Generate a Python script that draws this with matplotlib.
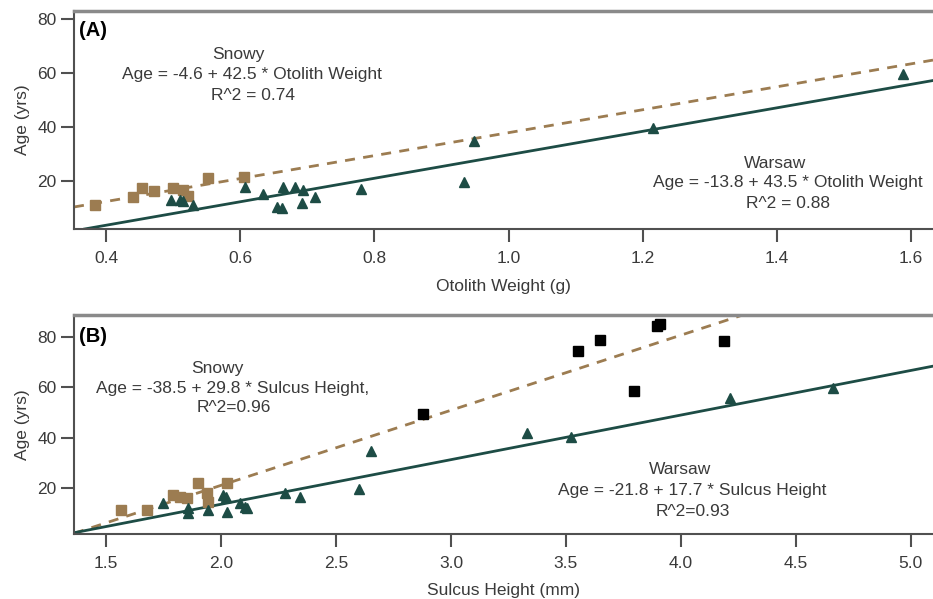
import matplotlib
matplotlib.use('Agg')
import matplotlib.pyplot as plt
import numpy as np

plt.rcParams['font.family'] = ['Liberation Sans', 'DejaVu Sans']
plt.rcParams['font.size'] = 12.5

# panel A: otolith weight (g) vs age (yrs)
a_snowy_w = [0.384, 0.440, 0.454, 0.472, 0.500, 0.515, 0.522, 0.552, 0.605]
a_snowy_age = [11.1, 14.1, 17.4, 16.3, 17.4, 16.5, 14.5, 21.1, 21.5]
a_warsaw_w = [0.496, 0.510, 0.515, 0.530, 0.607, 0.634, 0.654, 0.662, 0.664,
              0.682, 0.692, 0.694, 0.712, 0.780, 0.933, 0.948, 1.216, 1.588]
a_warsaw_age = [13.0, 13.0, 12.5, 11.1, 17.8, 15.2, 10.4, 9.9, 17.8,
                17.8, 11.9, 16.7, 14.1, 17.0, 19.6, 34.8, 39.6, 59.6]
a_snowy_fit = (-4.6, 42.5)
a_warsaw_fit = (-13.8, 43.5)

# panel B: sulcus height (mm) vs age (yrs)
b_snowy_h = [1.565, 1.678, 1.791, 1.822, 1.852, 1.900, 1.939, 1.943, 2.026]
b_snowy_age = [11.3, 11.3, 17.2, 16.4, 16.0, 22.0, 18.0, 14.5, 22.0]
b_old_h = [2.878, 3.552, 3.648, 3.796, 3.896, 3.909, 4.187]
b_old_age = [49.3, 74.3, 78.6, 58.4, 84.2, 85.3, 78.2]
b_warsaw_h = [1.748, 1.857, 1.857, 1.943, 2.009, 2.020, 2.026, 2.083, 2.104,
              2.113, 2.278, 2.343, 2.600, 2.652, 3.330, 3.522, 4.213, 4.661]
b_warsaw_age = [14.1, 12.1, 10.1, 11.3, 17.2, 16.5, 10.5, 14.1, 12.5,
                12.1, 18.0, 16.4, 19.6, 34.6, 41.8, 40.2, 55.6, 59.6]
b_snowy_fit = (-38.5, 29.8)
b_warsaw_fit = (-21.8, 17.7)

teal = '#1d4c45'
brown = '#9c7c51'
spine = '#505050'
tc = '#3a3a3a'

fig = plt.figure(figsize=(9.33, 5.99), dpi=100)
axA = fig.add_axes([74/933, 1 - 229/599, 1 - 74/933, (229 - 11)/599])
axB = fig.add_axes([74/933, 1 - 534/599, 1 - 74/933, (534 - 315)/599])


def style(ax):
    ax.spines['right'].set_visible(False)
    ax.spines['top'].set_color('#8a8a8a')
    ax.spines['top'].set_linewidth(2.5)
    for s in ['left', 'bottom']:
        ax.spines[s].set_color(spine)
        ax.spines[s].set_linewidth(1.5)
    ax.tick_params(direction='out', length=9.5, width=1.5, color=spine,
                   labelcolor=tc, labelsize=12.5)
    ax.tick_params(axis='x', pad=6)
    ax.tick_params(axis='y', pad=3)
    ax.set_ylabel('Age (yrs)', color=tc, fontsize=12.5, labelpad=5)


def fitline(ax, fit, **kw):
    ax.axline((0, fit[0]), slope=fit[1], **kw)


"""                 PANEL A                 """
fitline(axA, a_snowy_fit, color=brown, lw=2, ls=(0, (3.6, 3)))
fitline(axA, a_warsaw_fit, color=teal, lw=2)
axA.plot(a_snowy_w, a_snowy_age, 's', color=brown, ms=6.5)
axA.plot(a_warsaw_w, a_warsaw_age, '^', color=teal, ms=7.5)
axA.set_xlim(0.352, 1.633)
axA.set_ylim(2.2, 83)
axA.set_xticks([0.4, 0.6, 0.8, 1.0, 1.2, 1.4, 1.6])
axA.set_yticks([20, 40, 60, 80])
style(axA)
axA.set_xlabel('Otolith Weight (g)', color=tc, fontsize=12.5, labelpad=10)

"""                 PANEL B                 """
fitline(axB, b_snowy_fit, color=brown, lw=2, ls=(0, (3.6, 3)))
fitline(axB, b_warsaw_fit, color=teal, lw=2)
axB.plot(b_snowy_h, b_snowy_age, 's', color=brown, ms=6.5)
axB.plot(b_old_h, b_old_age, 's', color='black', ms=6.5)
axB.plot(b_warsaw_h, b_warsaw_age, '^', color=teal, ms=7.5)
axB.set_xlim(1.361, 5.096)
axB.set_ylim(1.8, 88.7)
axB.set_xticks([1.5, 2.0, 2.5, 3.0, 3.5, 4.0, 4.5, 5.0])
axB.set_yticks([20, 40, 60, 80])
style(axB)
axB.set_xlabel('Sulcus Height (mm)', color=tc, fontsize=12.5, labelpad=9)

"""                 TEXT                    """


def label(x, y, s, **kw):
    fig.text(x/933, 1 - y/599, s, ha='center', va='center', color=tc,
             fontsize=12.5, **kw)


fig.text(79/933, 1 - 30/599, '(A)', fontweight='bold', fontsize=14.5,
         va='center', ha='left', color='black')
fig.text(79/933, 1 - 336/599, '(B)', fontweight='bold', fontsize=14.5,
         va='center', ha='left', color='black')

label(238, 55, 'Snowy')
label(252, 74, 'Age = -4.6 + 42.5 * Otolith Weight')
label(253, 96, 'R^2 = 0.74')
label(775, 163, 'Warsaw')
label(788, 183, 'Age = -13.8 + 43.5 * Otolith Weight')
label(788, 203, 'R^2 = 0.88')

label(217, 369, 'Snowy')
label(233, 389, 'Age = -38.5 + 29.8 * Sulcus Height,')
label(234, 408, 'R^2=0.96')
label(680, 470, 'Warsaw')
label(692, 490, 'Age = -21.8 + 17.7 * Sulcus Height')
label(693, 511, 'R^2=0.93')

plt.savefig('out.png', dpi=100)
